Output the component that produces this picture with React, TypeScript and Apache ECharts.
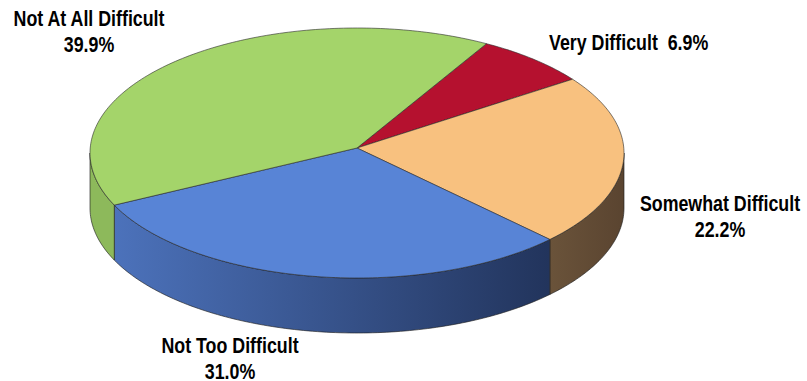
import React, { useEffect, useRef } from "react";
import * as echarts from "echarts";

const CATEGORIES = ["Very Difficult", "Somewhat Difficult", "Not Too Difficult", "Not At All Difficult"];
const VALUES = [6.9, 22.2, 31.0, 39.9];
const TOP_COLORS = ["#b5112f", "#f8c17f", "#5884d6", "#a4d46a"];
const SIDE_LEFT = ["#8c0d24", "#6a533a", "#4c72bb", "#8db95b"];
const SIDE_RIGHT = ["#8c0d24", "#5a4430", "#22345c", "#8db95b"];

// layout (not data)
const CX = 357, CY = 153, RX = 267, RY = 125, APEX_Y = 148, DEPTH = 55, START = 29;
const LABELS: { x: number; y: number; align: string; oneLine: boolean }[] = [
  { x: 549, y: 42, align: "left", oneLine: true },
  { x: 720, y: 216, align: "center", oneLine: false },
  { x: 230, y: 358, align: "center", oneLine: false },
  { x: 89, y: 31, align: "center", oneLine: false },
];

const FONT = 'bold 22px "Liberation Sans", Arial, sans-serif';
const SCALE_X = 0.81;

function pt(a: number, dy = 0): number[] {
  const r = (a * Math.PI) / 180;
  return [CX + RX * Math.sin(r), CY - RY * Math.cos(r) + dy];
}

export default function App() {
  const ref = useRef<HTMLDivElement>(null);
  useEffect(() => {
    if (!ref.current) return;
    const chart = echarts.init(ref.current, undefined, { renderer: "svg" });
    const total = VALUES.reduce((s, v) => s + v, 0);
    const starts: number[] = [];
    let acc = START;
    VALUES.forEach((v) => {
      starts.push(acc);
      acc += (v / total) * 360;
    });

    const renderItem = (params: any, api: any) => {
      const i = params.dataIndex;
      const v = api.value(0) as number;
      const a1 = starts[i];
      const a2 = a1 + (v / total) * 360;
      const children: any[] = [];
      // top face
      const top: number[][] = [[CX, APEX_Y]];
      const n = Math.max(2, Math.ceil(a2 - a1));
      for (let k = 0; k <= n; k++) top.push(pt(a1 + ((a2 - a1) * k) / n));
      children.push({
        type: "polygon",
        z2: 10,
        shape: { points: top },
        style: { fill: TOP_COLORS[i], stroke: "rgba(40,40,40,0.75)", lineWidth: 0.8 },
      });
      // front wall
      const lo = Math.max(a1, 90);
      const hi = Math.min(a2, 270);
      if (hi > lo) {
        const m = Math.max(2, Math.ceil(hi - lo));
        const wall: number[][] = [];
        for (let k = 0; k <= m; k++) wall.push(pt(lo + ((hi - lo) * k) / m));
        for (let k = m; k >= 0; k--) wall.push(pt(lo + ((hi - lo) * k) / m, DEPTH));
        children.push({
          type: "polygon",
          z2: 1,
          shape: { points: wall },
          style: {
            fill: new echarts.graphic.LinearGradient(0, 0, 1, 0, [
              { offset: 0, color: SIDE_LEFT[i] },
              { offset: 1, color: SIDE_RIGHT[i] },
            ]),
            stroke: "rgba(30,30,30,0.8)",
            lineWidth: 0.8,
          },
        });
      }
      // label
      const L = LABELS[i];
      const pct = v.toFixed(1) + "%";
      children.push({
        type: "text",
        z2: 20,
        x: L.x,
        y: L.y,
        scaleX: SCALE_X,
        style: {
          text: L.oneLine ? CATEGORIES[i] + "  " + pct : CATEGORIES[i] + "\n" + pct,
          x: 0,
          y: 0,
          fill: "#000",
          font: FONT,
          align: L.align,
          verticalAlign: "middle",
          lineHeight: 26,
        },
      });
      return { type: "group", children };
    };

    chart.setOption({
      animation: false,
      backgroundColor: "#ffffff",
      series: [
        {
          type: "custom",
          coordinateSystem: "none",
          renderItem,
          data: VALUES.map((v, i) => ({ name: CATEGORIES[i], value: [v] })),
        },
      ],
    });
    return () => chart.dispose();
  }, []);
  return (
    <div
      ref={ref}
      style={{ position: "fixed", left: 0, top: 0, width: 807, height: 381, background: "#fff" }}
    />
  );
}
